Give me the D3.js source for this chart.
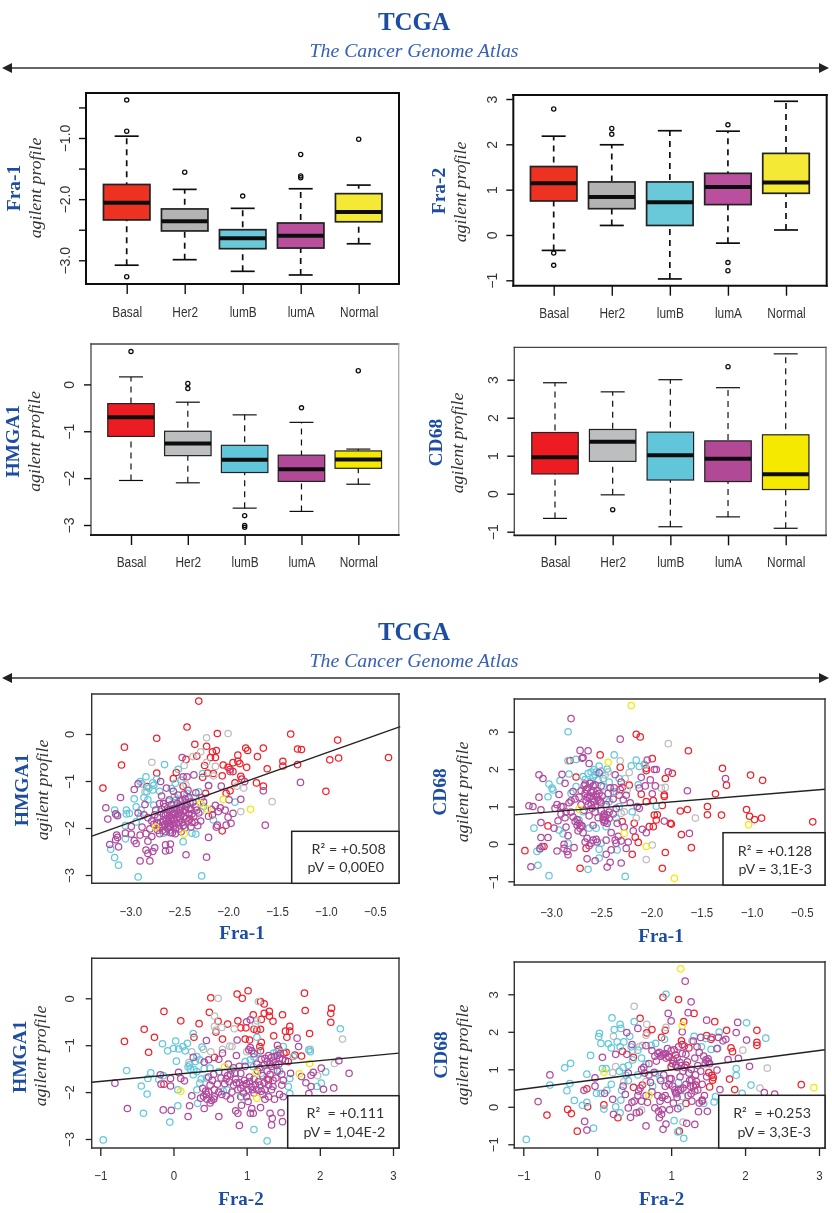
<!DOCTYPE html>
<html><head><meta charset="utf-8">
<script src="https://cdnjs.cloudflare.com/ajax/libs/d3/7.8.5/d3.min.js"></script>
<style>html,body{margin:0;padding:0;background:#fff}svg{display:block}text{white-space:pre}</style></head>
<body><svg id="c" width="832" height="1213"><defs><filter id="soft" x="0" y="0" width="100%" height="100%"><feGaussianBlur stdDeviation="0.3"/></filter></defs></svg>
<script>
const subtypes=["Basal","Her2","lumB","lumA","Normal"];
const axisCaption="agilent profile";
const headerTitle="TCGA", headerSub="The Cancer Genome Atlas";

// box stats per subtype: [lowWhisker,q1,median,q3,highWhisker]
const fra1Stats=[[-3.08,-2.34,-2.06,-1.76,-0.97],[-2.99,-2.52,-2.36,-2.16,-1.84],[-3.18,-2.81,-2.64,-2.50,-2.15],[-3.24,-2.80,-2.60,-2.39,-1.83],[-2.73,-2.37,-2.21,-1.91,-1.77]];
const fra1Out=[[-0.38,-0.89,-3.27],[-1.56],[-1.95],[-1.27,-1.62,-1.65],[-1.02]];
const fra2Stats=[[-0.34,0.75,1.14,1.51,2.18],[0.21,0.58,0.84,1.17,1.99],[-0.97,0.21,0.72,1.17,2.30],[-0.18,0.67,1.06,1.36,2.29],[0.11,0.92,1.16,1.80,2.95]];
const fra2Out=[[2.78,-0.40,-0.67],[2.35,2.22],[],[2.43,-0.61,-0.79],[]];
const hmgaStats=[[-2.05,-1.11,-0.70,-0.41,0.16],[-2.10,-1.52,-1.26,-1.00,-0.38],[-2.64,-1.88,-1.61,-1.30,-0.65],[-2.71,-2.07,-1.81,-1.51,-0.81],[-2.13,-1.79,-1.60,-1.42,-1.38]];
const hmgaOut=[[0.70],[0.02,-0.09],[-2.80,-3.01,-3.05],[-0.50],[0.29]];
const cd68Stats=[[-0.65,0.52,0.96,1.61,2.92],[-0.03,0.85,1.37,1.69,2.68],[-0.87,0.36,1.01,1.62,3.00],[-0.61,0.32,0.92,1.39,2.79],[-0.91,0.11,0.51,1.55,3.68]];
const cd68Out=[[],[-0.42],[],[3.34],[]];

// Fra-1 vs HMGA1
const aRed=[[-3.28,-1.15],[-3.09,-0.66],[-3.06,-0.28],[-2.73,-0.09],[-2.73,-0.83],[-2.30,0.70],[-2.42,0.15],[-2.11,0.01],[-2.34,-0.22],[-2.22,-0.26],[-2.12,-0.35],[-2.16,-0.38],[-2.13,-0.50],[-2.18,-0.50],[-2.32,-0.47],[-2.43,-0.54],[-2.24,-0.67],[-2.05,-0.66],[-1.95,-0.61],[-1.90,-0.45],[-1.90,-0.58],[-1.88,-0.63],[-1.82,-0.30],[-1.80,-0.35],[-1.81,-0.71],[-2.00,-0.71],[-1.98,-0.75],[-1.95,-0.80],[-2.21,-0.83],[-2.15,-0.84],[-2.26,-0.92],[-2.06,-0.89],[-1.87,-0.90],[-1.86,-0.96],[-1.93,-1.04],[-1.70,-0.48],[-1.64,-0.30],[-1.60,-0.74],[-1.71,-1.04],[-1.64,-1.11],[-1.44,-0.58],[-1.44,-0.68],[-1.36,0.00],[-1.29,-0.32],[-1.25,-0.33],[-1.29,-0.65],[-1.00,-1.22],[-0.96,-0.55],[-0.87,-0.51],[-0.88,-0.13],[-0.36,-0.50],[-2.53,-0.82],[-2.56,-0.95],[-2.23,-1.26],[-1.98,-1.21],[-2.02,-1.26],[-2.06,-2.06],[-2.16,-1.72],[-2.39,-1.81],[-2.83,-1.12],[-2.46,-1.11]];
const aGray=[[-2.78,-0.60],[-2.22,-0.08],[-2.00,0.01],[-2.28,-0.38],[-2.36,-0.48],[-2.45,-0.67],[-2.22,-0.60],[-2.13,-0.69],[-2.15,-0.89],[-1.91,-1.11],[-1.84,-1.15],[-1.87,-1.65],[-1.55,-1.44],[-2.85,-1.23],[-2.49,-1.38],[-2.43,-1.08],[-2.28,-1.65]];
const aCyan=[[-3.16,-2.63],[-3.12,-2.79],[-3.20,-2.45],[-2.92,-3.04],[-2.27,-3.02],[-3.16,-1.62],[-3.14,-1.72],[-3.04,-1.62],[-3.04,-1.70],[-3.01,-1.69],[-3.05,-1.95],[-3.05,-2.23],[-2.96,-1.38],[-2.94,-1.55],[-2.90,-1.01],[-2.84,-0.91],[-2.88,-1.06],[-2.77,-1.04],[-2.76,-1.09],[-2.73,-0.96],[-2.65,-0.65],[-2.51,-0.75],[-2.26,-0.84],[-2.20,-1.09],[-2.83,-1.23],[-2.77,-1.19],[-2.81,-1.15],[-2.90,-1.76],[-2.76,-1.51],[-2.94,-1.87],[-2.46,-2.29],[-2.33,-2.13],[-2.45,-1.94],[-1.93,-1.45],[-2.53,-1.40],[-2.56,-1.51],[-2.61,-1.44],[-2.42,-1.26],[-2.30,-1.23],[-2.15,-1.83],[-2.66,-2.11],[-2.37,-2.11],[-2.55,-1.33],[-2.50,-1.62],[-2.35,-1.35],[-2.60,-2.05],[-2.69,-1.65],[-2.44,-1.46],[-2.86,-1.35],[-2.25,-1.54],[-2.54,-1.05],[-2.48,-0.98],[-2.58,-1.16],[-2.70,-1.22],[-2.82,-1.40],[-2.89,-1.62]];
const aPurple=[[-3.25,-1.57],[-3.23,-1.81],[-3.21,-2.35],[-3.10,-1.35],[-3.15,-1.70],[-3.13,-1.74],[-3.14,-2.15],[-3.13,-2.20],[-3.15,-2.25],[-3.12,-2.40],[-3.05,-2.11],[-2.96,-1.18],[-2.92,-1.06],[-2.99,-1.97],[-2.99,-2.13],[-2.96,-2.27],[-2.94,-2.33],[-2.90,-2.15],[-2.90,-2.70],[-2.80,-2.70],[-2.84,-2.47],[-2.82,-2.54],[-2.77,-2.50],[-2.75,-2.42],[-2.64,-2.36],[-2.64,-2.49],[-2.59,-2.34],[-2.60,-2.47],[-2.43,-2.57],[-2.22,-2.62],[-2.20,-2.20],[-2.47,-0.50],[-2.35,-0.87],[-2.46,-0.91],[-2.42,-0.91],[-2.69,-1.01],[-2.07,-1.11],[-1.98,-0.80],[-1.83,-1.01],[-1.87,-1.39],[-1.95,-1.69],[-1.97,-1.90],[-2.02,-1.94],[-2.00,-1.77],[-2.11,-1.94],[-2.12,-1.98],[-1.62,-1.94],[-1.64,-1.21],[-1.26,-1.03],[-2.20,-1.75],[-2.13,-1.52],[-2.08,-1.57],[-2.17,-1.60],[-2.10,-1.65],[-2.03,-1.62],[-1.99,-1.40],[-2.25,-1.45],[-2.20,-1.10],[-2.92,-1.68],[-2.85,-1.50],[-2.82,-1.78],[-2.88,-1.98],[-2.84,-2.12],[-2.82,-2.28],[-2.78,-2.18],[-2.72,-2.05],[-2.76,-1.92],[-2.72,-1.78],[-2.74,-1.62],[-2.70,-1.48],[-2.68,-1.32],[-2.63,-1.15],[-2.66,-1.70],[-2.69,-1.88],[-2.67,-1.96],[-2.64,-2.08],[-2.62,-1.90],[-2.63,-1.80],[-2.61,-1.62],[-2.60,-1.75],[-2.58,-1.85],[-2.59,-1.98],[-2.57,-2.10],[-2.55,-1.95],[-2.56,-1.80],[-2.54,-1.70],[-2.55,-1.58],[-2.52,-1.48],[-2.52,-1.78],[-2.50,-1.88],[-2.50,-2.02],[-2.48,-1.72],[-2.47,-1.55],[-2.47,-1.40],[-2.45,-1.28],[-2.44,-1.62],[-2.43,-1.80],[-2.42,-1.50],[-2.40,-1.70],[-2.40,-1.35],[-2.38,-1.60],[-2.37,-1.88],[-2.36,-1.45],[-2.35,-1.75],[-2.33,-1.55],[-2.33,-1.25],[-2.31,-1.95],[-2.30,-1.68],[-2.28,-1.85],[-2.27,-1.35],[-2.65,-1.55],[-2.57,-1.65],[-2.49,-1.62],[-2.60,-1.40],[-2.66,-1.85],[-2.53,-1.90],[-2.46,-1.95],[-2.70,-1.98],[-2.58,-1.50],[-2.62,-2.00],[-2.75,-1.72],[-2.44,-2.00],[-2.38,-1.98],[-2.51,-1.30],[-2.56,-1.22],[-2.41,-1.20],[-2.68,-1.60],[-2.66,-1.48],[-2.64,-1.72],[-2.65,-1.92],[-2.62,-1.68],[-2.61,-1.84],[-2.60,-1.95],[-2.59,-1.60],[-2.58,-1.78],[-2.57,-1.92],[-2.56,-1.70],[-2.55,-1.85],[-2.54,-2.02],[-2.53,-1.62],[-2.51,-1.70],[-2.50,-1.55],[-2.49,-1.80],[-2.49,-1.42],[-2.47,-1.88],[-2.46,-1.65],[-2.45,-1.75],[-2.44,-1.38],[-2.43,-1.55],[-2.41,-1.85],[-2.40,-1.60],[-2.39,-1.45],[-2.37,-1.70],[-2.34,-1.88],[-2.32,-1.62],[-2.70,-2.12],[-2.67,-2.05],[-2.73,-1.88],[-2.78,-1.85],[-2.80,-2.02],[-2.86,-1.72],[-2.59,-2.10],[-2.54,-2.12],[-2.48,-2.08]];
const aYellow=[[-2.74,-1.98],[-2.45,-2.13],[-2.28,-1.48],[-2.21,-1.60],[-2.05,-1.39],[-1.77,-1.60]];

// Fra-1 vs CD68
const bRed=[[-3.26,-0.18],[-3.03,0.48],[-3.07,-0.07],[-2.81,2.23],[-2.75,1.79],[-2.51,2.38],[-2.71,-0.65],[-2.31,2.05],[-2.15,2.93],[-2.11,2.86],[-1.99,2.28],[-2.05,2.02],[-2.05,1.96],[-1.86,1.75],[-1.79,1.89],[-1.87,1.31],[-1.87,1.27],[-2.10,1.33],[-2.22,1.57],[-2.29,1.51],[-2.05,1.13],[-1.98,1.16],[-1.89,1.03],[-1.97,0.77],[-1.94,0.78],[-1.95,0.64],[-1.98,0.46],[-2.02,0.46],[-2.29,0.60],[-2.17,0.55],[-2.16,0.18],[-2.13,0.04],[-2.19,-0.28],[-2.65,-0.12],[-1.86,-0.23],[-1.89,-0.65],[-1.81,0.55],[-1.80,0.53],[-1.70,0.25],[-1.60,-0.10],[-1.71,0.88],[-1.64,0.92],[-1.63,2.49],[-1.36,1.34],[-1.44,1.00],[-1.44,0.78],[-1.30,0.77],[-1.29,2.02],[-1.25,1.57],[-1.05,0.92],[-1.02,0.74],[-0.97,0.65],[-0.90,0.69],[-1.01,1.84],[-0.89,1.70],[-0.39,0.59]];
const bGray=[[-1.83,2.68],[-1.56,0.69],[-2.31,2.22],[-2.22,1.91],[-2.26,1.75],[-2.06,2.11],[-2.43,1.93],[-2.46,1.84],[-1.90,1.49],[-1.86,1.51],[-1.99,-0.03],[-2.05,-0.42],[-2.15,0.69],[-2.27,0.86],[-2.30,0.82],[-2.35,1.40],[-2.24,1.44]];
const bCyan=[[-3.17,0.42],[-3.14,-0.20],[-3.13,-0.57],[-3.11,-0.14],[-3.02,-0.85],[-3.02,1.60],[-2.99,1.49],[-2.98,1.44],[-3.03,1.26],[-2.83,3.00],[-2.91,1.69],[-2.82,1.87],[-2.83,2.22],[-2.75,2.26],[-2.26,-0.87],[-2.63,-0.68],[-2.37,2.38],[-2.15,2.24],[-2.20,2.09],[-2.12,2.07],[-2.07,2.13],[-2.92,0.37],[-2.88,0.27],[-2.83,0.02],[-2.68,1.80],[-2.63,1.89],[-2.57,1.99],[-2.52,2.08],[-2.60,1.67],[-2.53,1.71],[-2.48,1.53],[-2.75,1.53],[-2.80,1.35],[-2.68,0.86],[-2.72,0.64],[-2.62,0.42],[-2.55,0.42],[-2.52,-0.38],[-2.52,-0.14],[-2.50,0.02],[-2.45,0.46],[-2.42,1.13],[-2.35,0.69],[-2.32,1.00],[-2.32,1.75],[-2.13,1.58],[-2.19,0.86],[-1.95,1.01],[-2.34,-0.16],[-2.56,1.85],[-2.45,1.17],[-2.60,1.92],[-2.50,1.95],[-2.44,2.00],[-2.66,1.72],[-2.58,1.78],[-2.55,1.92],[-2.48,1.75],[-2.42,1.65],[-2.38,1.40]];
const bPurple=[[-2.80,3.35],[-2.31,2.80],[-2.71,2.50],[-2.63,2.49],[-2.69,2.29],[-2.68,2.31],[-2.62,2.15],[-3.12,1.85],[-3.08,1.75],[-3.12,1.25],[-3.22,1.02],[-3.18,1.00],[-3.10,0.91],[-3.10,0.57],[-3.10,0.17],[-3.03,0.17],[-3.09,-0.07],[-3.11,-0.12],[-3.20,-0.61],[-2.94,-0.19],[-2.89,1.86],[-2.86,1.62],[-2.97,0.42],[-2.87,-0.01],[-2.87,-0.12],[-2.84,-0.20],[-2.83,-0.29],[-2.77,-0.10],[-2.64,-0.40],[-2.56,-0.45],[-2.41,-0.49],[-2.44,-0.62],[-2.30,-0.51],[-2.45,-0.28],[-2.40,-0.16],[-2.35,0.02],[-2.25,-0.12],[-2.04,2.24],[-1.97,1.99],[-1.95,1.99],[-1.83,1.93],[-2.10,1.78],[-2.01,1.71],[-1.96,1.55],[-2.12,1.49],[-2.06,1.55],[-1.99,1.34],[-1.64,1.42],[-1.26,1.75],[-1.87,0.61],[-2.05,0.30],[-2.09,0.39],[-1.62,0.28],[-2.96,0.95],[-2.94,1.05],[-2.90,0.80],[-2.93,0.62],[-2.92,1.32],[-2.88,1.00],[-2.86,0.70],[-2.85,0.45],[-2.82,1.10],[-2.83,0.22],[-2.80,0.85],[-2.78,1.40],[-2.76,1.20],[-2.76,0.60],[-2.74,0.50],[-2.73,0.35],[-2.72,1.25],[-2.70,1.42],[-2.70,1.05],[-2.69,0.48],[-2.67,0.90],[-2.66,1.60],[-2.66,1.35],[-2.65,1.15],[-2.64,0.15],[-2.63,1.50],[-2.62,1.25],[-2.62,0.75],[-2.60,1.38],[-2.60,1.05],[-2.60,0.02],[-2.58,1.55],[-2.58,1.20],[-2.58,0.50],[-2.56,1.00],[-2.56,0.85],[-2.55,1.32],[-2.55,0.12],[-2.53,1.18],[-2.53,0.70],[-2.52,1.90],[-2.50,1.10],[-2.50,0.90],[-2.50,1.55],[-2.48,0.65],[-2.47,0.80],[-2.46,0.72],[-2.45,1.05],[-2.45,0.10],[-2.44,0.55],[-2.43,1.35],[-2.42,0.85],[-2.41,1.50],[-2.40,0.30],[-2.38,1.20],[-2.37,1.50],[-2.36,1.85],[-2.35,0.95],[-2.34,0.55],[-2.33,0.20],[-2.31,1.45],[-2.30,1.65],[-2.28,1.18],[-2.27,0.45],[-2.25,1.30],[-2.23,0.05],[-2.21,1.10],[-2.18,0.35],[-2.14,1.00],[-2.12,0.95],[-2.67,1.55],[-2.65,1.45],[-2.64,1.25],[-2.63,1.05],[-2.61,1.62],[-2.60,1.28],[-2.59,0.95],[-2.58,1.42],[-2.57,1.12],[-2.56,1.58],[-2.54,1.25],[-2.54,1.42],[-2.52,1.35],[-2.51,1.15],[-2.49,1.28],[-2.74,0.65],[-2.72,0.55],[-2.71,0.42],[-2.70,0.48],[-2.68,0.30],[-2.48,0.72],[-2.46,0.62],[-2.44,0.78],[-2.47,0.58],[-2.42,0.68],[-2.90,1.00],[-2.85,0.85],[-2.80,1.15],[-2.78,0.72],[-2.66,0.05],[-2.62,-0.05],[-2.58,0.10],[-2.54,0.05],[-2.38,0.80],[-2.36,0.10],[-2.30,0.08],[-2.32,1.30]];
const bYellow=[[-2.20,3.70],[-2.43,2.18],[-2.72,0.93],[-2.27,0.28],[-2.05,-0.07],[-1.77,-0.92],[-1.03,0.51]];

// Fra-2 vs HMGA1
const cRed=[[-0.67,-0.92],[-0.34,-1.15],[-0.26,-0.83],[-0.40,-0.66],[-0.13,-0.28],[0.10,-0.48],[0.35,-0.54],[0.51,0.01],[0.49,-0.30],[0.61,-0.49],[0.74,-0.55],[0.58,-0.72],[0.67,-0.87],[0.56,-1.26],[0.28,-0.83],[-0.13,-1.83],[0.87,0.09],[0.94,0.00],[1.02,0.16],[0.88,-0.48],[0.92,-0.63],[0.99,-0.63],[1.09,-0.35],[0.98,-0.87],[1.04,-0.89],[1.19,-0.07],[1.24,-0.12],[1.24,-0.32],[1.31,-0.28],[1.31,-0.38],[1.20,-0.45],[1.36,-0.49],[1.49,-0.35],[1.10,-0.66],[1.14,-0.68],[1.19,-0.66],[1.37,-0.80],[1.20,-0.94],[1.18,-1.03],[1.19,-1.12],[1.53,-0.70],[1.59,-0.70],[1.59,-0.60],[1.55,-0.83],[1.79,0.11],[1.80,-0.26],[1.86,-0.75],[2.16,-0.21],[2.15,-0.32],[2.15,-0.51],[1.75,-1.23],[1.66,-1.21],[1.51,-1.17],[1.54,-1.15],[1.44,-1.09],[1.57,-1.35],[1.30,-1.74],[0.92,-2.10]];
const cGray=[[0.61,0.00],[1.16,-0.07],[0.56,-0.38],[0.56,-0.60],[0.66,-0.62],[0.58,-0.68],[0.83,-0.65],[1.14,-0.48],[1.12,-0.55],[0.25,-1.14],[0.41,-1.09],[0.51,-1.14],[0.67,-1.09],[0.77,-1.02],[0.80,-1.03],[1.00,-1.14],[0.21,-1.37],[2.31,-0.87],[1.97,-1.65],[2.20,-1.39],[1.87,-1.09],[1.37,-1.53]];
const cCyan=[[-0.96,-3.02],[-0.64,-1.54],[-0.44,-1.87],[-0.36,-2.04],[-0.41,-2.45],[-0.35,-1.71],[-0.31,-1.59],[-0.20,-1.73],[-0.14,-1.65],[-0.15,-0.97],[-0.08,-1.12],[0.00,-1.07],[0.03,-0.91],[0.07,-1.08],[0.13,-1.03],[0.16,-1.12],[0.19,-0.96],[0.04,-1.34],[0.27,-0.75],[-0.05,-2.64],[0.06,-2.29],[0.06,-1.95],[0.20,-1.46],[0.23,-1.51],[0.32,-1.24],[0.36,-1.31],[0.32,-1.56],[0.27,-1.63],[0.39,-1.04],[0.33,-2.24],[0.36,-1.81],[0.32,-1.95],[0.50,-1.49],[0.62,-1.56],[0.73,-1.95],[0.80,-1.53],[0.98,-1.35],[1.05,-1.31],[1.14,-0.83],[1.10,-2.80],[1.28,-3.04],[1.37,-1.17],[1.41,-1.14],[1.50,-1.03],[1.64,-1.24],[1.59,-1.71],[1.57,-1.88],[1.59,-2.03],[1.87,-1.14],[1.85,-1.10],[2.08,-1.57],[2.02,-1.81],[1.96,-1.88],[2.28,-0.65],[0.93,-2.10],[1.09,-1.46],[0.45,-1.70],[0.68,-1.98],[1.20,-1.60],[1.45,-1.55],[0.22,-1.42],[0.30,-1.35],[0.38,-1.72],[0.28,-1.52],[0.42,-1.50],[1.10,-1.25],[1.15,-1.16]];
const cPurple=[[-0.80,-1.81],[-0.63,-2.35],[-0.18,-1.63],[-0.17,-1.83],[-0.14,-2.38],[-0.03,-2.39],[-0.04,-1.71],[-0.04,-1.87],[0.07,-1.58],[0.10,-1.71],[0.15,-1.76],[0.20,-2.52],[0.22,-2.29],[0.25,-2.08],[0.27,-1.26],[0.42,-1.36],[0.48,-1.31],[0.45,-0.90],[0.67,-1.17],[0.42,-2.35],[0.62,-2.52],[0.37,-2.13],[0.41,-2.09],[0.45,-2.05],[0.48,-2.00],[0.52,-2.18],[0.50,-2.23],[0.55,-2.15],[0.56,-1.95],[0.90,-2.71],[0.88,-2.45],[0.87,-0.89],[1.00,-0.50],[1.05,-0.46],[2.40,-1.60],[2.26,-1.33],[2.19,-1.91],[2.05,-1.94],[2.02,-1.49],[1.91,-1.58],[1.88,-1.64],[1.75,-1.67],[1.81,-1.80],[1.88,-1.88],[1.85,-2.03],[1.69,-0.85],[1.71,-1.03],[1.49,-2.63],[1.47,-2.44],[1.32,-2.45],[1.35,-2.56],[1.34,-2.70],[1.19,-2.33],[1.05,-2.45],[1.09,-2.45],[1.07,-2.35],[1.25,-1.28],[1.30,-1.22],[1.34,-1.26],[1.38,-1.24],[1.42,-1.22],[1.45,-1.28],[1.49,-1.30],[1.53,-1.33],[1.28,-1.35],[1.20,-1.30],[1.14,-1.40],[1.40,-1.42],[1.48,-1.62],[1.50,-1.75],[1.48,-1.85],[1.45,-2.05],[1.50,-2.10],[1.38,-2.15],[1.34,-1.95],[1.36,-1.75],[1.30,-1.85],[1.25,-1.95],[1.22,-2.05],[1.25,-2.15],[1.18,-1.85],[1.14,-1.95],[1.10,-2.02],[1.06,-1.88],[1.02,-1.95],[1.00,-2.10],[0.97,-1.75],[0.95,-1.85],[0.90,-1.80],[0.88,-1.95],[0.85,-1.72],[0.82,-1.85],[0.80,-2.00],[0.76,-1.78],[0.74,-1.65],[0.70,-1.82],[0.66,-2.05],[0.65,-1.70],[0.60,-1.83],[0.55,-1.62],[0.53,-1.75],[0.40,-1.92],[0.92,-1.60],[0.98,-1.45],[1.04,-1.68],[1.10,-1.72],[1.15,-1.55],[1.22,-1.65],[1.28,-1.55],[1.34,-1.45],[0.90,-1.45],[0.82,-1.48],[0.75,-1.40],[0.86,-1.22],[1.05,-1.05],[1.07,-1.12],[1.03,-1.10],[1.10,-1.18],[1.42,-1.00],[1.60,-1.60],[0.93,-2.28],[0.85,-2.40],[1.02,-2.20],[0.62,-1.30],[0.72,-1.72],[0.78,-1.62],[0.70,-1.58],[0.84,-1.60],[0.86,-1.80],[0.92,-1.92],[0.96,-2.02],[1.00,-1.82],[1.04,-1.78],[1.08,-1.95],[1.12,-1.85],[1.16,-1.78],[1.20,-1.98],[1.24,-1.80],[1.28,-1.72],[1.32,-1.62],[1.36,-1.88],[1.40,-1.70],[1.42,-1.55],[1.44,-1.40],[1.46,-1.18],[1.36,-1.34],[1.32,-1.40],[1.24,-1.42],[1.18,-1.48],[0.48,-1.68],[0.50,-1.85],[0.44,-1.98],[0.46,-2.15],[0.56,-2.10],[0.62,-2.00],[0.72,-2.08],[0.78,-2.15],[1.30,-2.10]];
const cYellow=[[0.10,-1.98],[0.70,-1.46],[1.13,-1.60],[1.14,-2.13],[1.72,-1.61],[1.86,-1.39]];

// Fra-2 vs CD68
const dRed=[[-0.68,-0.22],[-0.40,-0.07],[-0.35,-0.18],[-0.27,-0.65],[-0.13,0.00],[-0.14,0.48],[0.09,0.05],[0.28,-0.29],[0.34,1.48],[0.58,2.36],[0.49,1.32],[0.49,0.52],[0.61,0.58],[0.74,2.06],[0.67,1.97],[0.89,2.92],[1.10,2.86],[1.31,2.49],[0.92,2.04],[0.87,1.85],[1.17,2.27],[1.14,1.76],[1.15,1.66],[1.24,1.57],[1.48,1.90],[1.54,1.80],[1.59,2.27],[1.75,2.04],[1.81,1.57],[1.83,1.47],[2.16,2.04],[2.16,1.72],[2.16,1.64],[1.79,0.74],[1.86,0.46],[1.51,0.91],[1.55,0.84],[1.57,0.78],[1.56,0.71],[1.52,0.53],[1.42,0.18],[1.20,0.09],[1.11,-0.65],[0.97,1.32],[1.00,1.07],[2.76,0.59],[1.33,0.58],[1.06,1.38],[1.20,1.11]];
const dGray=[[0.50,2.68],[0.67,2.20],[0.22,1.88],[0.25,1.07],[0.21,0.91],[0.93,2.12],[1.28,1.76],[1.16,-0.41],[2.30,1.03],[2.20,0.50],[1.97,1.51],[0.61,1.64],[0.66,1.91],[0.57,1.60],[0.60,-0.09],[0.48,1.51],[0.36,0.67],[0.66,0.67]];
const dCyan=[[-0.96,-0.87],[-0.64,0.58],[-0.44,1.04],[-0.36,1.16],[-0.41,0.43],[-0.37,0.62],[-0.31,0.17],[-0.20,0.04],[-0.14,0.12],[-0.14,0.87],[-0.09,1.37],[-0.05,-0.57],[-0.01,0.36],[0.05,0.36],[0.03,1.96],[0.02,1.87],[0.05,1.69],[0.07,1.02],[0.12,1.02],[0.13,0.44],[0.09,-0.06],[0.15,1.68],[0.19,1.57],[0.19,0.60],[0.20,2.37],[0.23,2.06],[0.31,2.20],[0.32,2.09],[0.27,1.73],[0.36,1.73],[0.31,1.60],[0.44,1.88],[0.46,1.60],[0.50,2.27],[0.25,0.00],[0.31,-0.16],[0.32,0.18],[0.33,0.44],[0.39,0.84],[0.55,1.51],[0.73,1.64],[0.79,0.89],[0.79,1.69],[0.91,1.80],[0.93,3.00],[0.66,1.14],[1.04,-0.37],[1.09,-0.67],[1.17,-0.84],[1.13,0.00],[1.15,0.27],[1.31,1.88],[1.41,1.60],[1.47,1.82],[1.54,1.53],[1.63,1.56],[1.65,1.99],[1.58,0.13],[1.60,0.27],[1.44,0.09],[2.02,2.24],[1.88,1.02],[1.88,0.84],[2.08,0.58],[1.96,0.36],[2.28,1.83],[0.42,1.10],[0.75,0.55],[1.10,0.65],[0.85,0.75],[0.35,1.05],[0.30,0.95],[0.42,0.70],[0.55,0.85],[0.60,1.30],[0.48,1.25]];
const dPurple=[[-0.80,0.14],[-0.64,0.85],[-0.18,0.44],[-0.17,-0.39],[-0.14,-0.62],[-0.03,0.77],[-0.03,0.55],[0.10,0.36],[0.07,1.32],[0.21,0.20],[0.22,-0.20],[0.25,1.40],[0.40,1.98],[0.55,2.09],[0.66,-0.51],[1.19,3.35],[1.27,2.80],[0.96,2.49],[1.23,2.51],[1.00,2.29],[1.48,2.31],[1.90,2.25],[1.88,1.98],[2.02,1.78],[1.64,1.85],[1.70,1.76],[2.06,1.08],[1.91,1.29],[1.77,1.26],[2.26,0.38],[2.40,0.34],[1.62,0.98],[1.66,0.46],[1.49,-0.12],[1.37,-0.13],[1.32,-0.47],[1.21,-0.44],[0.93,-0.46],[0.89,-0.60],[0.84,-0.29],[0.38,0.33],[0.42,0.90],[0.35,0.55],[0.42,-0.03],[0.45,-0.28],[0.50,0.15],[0.53,-0.16],[0.57,-0.14],[0.55,0.30],[0.56,0.42],[0.60,0.15],[0.63,1.05],[0.66,1.63],[0.68,0.12],[0.70,1.15],[0.72,0.65],[0.74,1.50],[0.77,0.92],[0.78,-0.03],[0.80,1.22],[0.82,0.30],[0.83,-0.12],[0.84,1.45],[0.86,0.70],[0.87,-0.20],[0.88,1.38],[0.88,0.25],[0.90,0.85],[0.90,1.40],[0.92,0.55],[0.93,1.30],[0.95,1.55],[0.97,0.60],[0.98,-0.08],[1.00,0.75],[1.02,1.15],[1.03,0.10],[1.04,1.52],[1.05,0.45],[1.07,0.35],[1.08,1.05],[1.09,-0.05],[1.10,1.60],[1.12,0.80],[1.13,0.45],[1.14,1.10],[1.15,2.00],[1.16,0.95],[1.18,1.62],[1.20,0.60],[1.22,1.20],[1.23,0.30],[1.25,0.70],[1.27,1.00],[1.28,0.15],[1.30,0.55],[1.32,1.30],[1.33,0.85],[1.35,1.60],[1.36,0.45],[1.38,1.45],[1.38,0.10],[1.40,1.85],[1.42,0.60],[1.44,1.35],[1.45,0.30],[1.47,1.25],[1.48,0.80],[1.50,1.20],[1.50,1.28],[1.52,1.15],[1.55,1.85],[1.30,1.75],[1.27,0.35],[1.10,0.45],[0.78,1.35],[0.60,1.00],[0.64,0.90],[0.40,1.40],[0.47,1.66],[1.74,1.80],[1.62,1.55],[0.82,1.42],[0.86,1.35],[0.92,1.42],[0.96,1.35],[1.00,1.50],[1.03,1.25],[1.06,1.12],[1.08,1.30],[1.12,1.18],[1.15,1.42],[1.18,1.05],[1.20,1.40],[1.24,0.90],[1.26,0.55],[1.28,0.72],[1.32,0.42],[1.34,0.68],[1.36,1.10],[1.40,0.95],[1.42,0.15],[1.46,1.15],[0.85,0.15],[0.88,-0.08],[0.92,0.30],[0.95,0.20],[0.98,0.75],[1.02,0.55],[1.06,0.38],[1.08,0.25],[1.16,0.50],[0.70,0.85],[0.74,0.40],[0.66,0.30],[0.58,0.50],[0.47,0.12]];
const dYellow=[[1.13,3.68],[1.15,2.17],[0.09,0.93],[0.70,0.31],[2.93,0.51]];

// trend line ends and statistics captions
const aLine=[[-3.40,-2.18],[-0.24,0.156]], bLine=[[-3.366,0.775],[-0.267,1.46]];
const cLine=[[-1.118,-1.79],[3.08,-1.17]], dLine=[[-1.12,0.44],[3.08,1.52]];
const aNote=["R² = +0.508","pV = 0,00E0"], bNote=["R² = +0.128","pV = 3,1E-3"];
const cNote=["R²  = +0.111","pV = 1,04E-2"], dNote=["R²  = +0.253","pV = 3,3E-3"];

const blue="#1f4ea1";
const svg=d3.select("#c");
const grp=svg.append("g").attr("filter","url(#soft)");

function header(yT,yS,yA){
  grp.append("text").attr("x",414).attr("y",yT).attr("text-anchor","middle").attr("font-family","Liberation Serif").attr("font-weight","bold").attr("font-size",25).attr("fill",blue).text(headerTitle);
  grp.append("text").attr("x",414).attr("y",yS).attr("text-anchor","middle").attr("font-family","Liberation Serif").attr("font-style","italic").attr("font-size",19.8).attr("fill","#3560b5").text(headerSub);
  grp.append("line").attr("x1",6).attr("x2",824).attr("y1",yA).attr("y2",yA).attr("stroke","#333").attr("stroke-width",1.5);
  grp.append("path").attr("d",`M2,${yA}L12,${yA-5}V${yA+5}Z`).attr("fill","#222");
  grp.append("path").attr("d",`M829,${yA}L819,${yA-5}V${yA+5}Z`).attr("fill","#222");
}
header(30,57,68);
header(640,667,678);

function rotText(x,y,txt,o){
  return grp.append("text").attr("transform",`translate(${x},${y}) rotate(-90) scale(${o.sx||1},1)`).attr("text-anchor","middle")
    .attr("font-family","Liberation Serif").attr("font-weight",o.w||"normal").attr("font-style",o.s||"normal").attr("font-size",o.f).attr("fill",o.c).text(txt);
}
function labels(p){
  rotText(p.nameX,p.nameY,p.name,{w:"bold",f:19.5,c:blue});
  rotText(p.capX,p.capY,axisCaption,{s:"italic",f:16.5,c:"#333",sx:1.08});
}
function styleAxis(g,stroke,sw){
  g.select(".domain").remove();
  g.selectAll(".tick line").attr("stroke",stroke).attr("stroke-width",sw);
}
function yAxis(p,y){
  const g=grp.append("g").attr("transform",`translate(${p.l},0)`)
    .call(d3.axisLeft(y).tickValues(p.yTicks).tickSize(p.yTick||7).tickFormat(v=>p.yLabel(v)));
  styleAxis(g,p.tc||"#111",p.tsw||1.4);
  g.selectAll(".tick text").attr("x",0).attr("y",0).attr("dy",0).attr("text-anchor","middle")
    .attr("transform",`translate(${p.yLabX-p.l},0) rotate(-90)`)
    .attr("font-family","Liberation Sans").attr("font-size",p.yFont||14).attr("fill","#333");
}
function frame(p,sw,c,rc,bw){
  const side=(x1,y1,x2,y2,col,w)=>grp.append("line").attr("x1",x1).attr("y1",y1).attr("x2",x2).attr("y2",y2).attr("stroke",col).attr("stroke-width",w).attr("stroke-linecap","square");
  side(p.l,p.t,p.r,p.t,c,sw);
  side(p.l,p.t,p.l,p.b,c,sw);
  side(p.r,p.t,p.r,p.b,rc||c,sw);
  side(p.l,p.b,p.r,p.b,bw?"#1a1a1a":c,bw||sw);
}
const boxColorsA=["#ee3124","#b3b3b3","#6bc9d8","#b94f9d","#f4ea36"];
const boxColorsB=["#ed1c24","#bcbec0","#62c6da","#b14a96","#f5e900"];

function boxPanel(p,stats,outs,colors){
  const x=d3.scalePoint().domain(subtypes).range([p.x0,p.x1]);
  const y=d3.scaleLinear().domain(p.yDom).range(p.yRange);
  labels(p);
  const bw=46.5, cw=24;
  const lw=p.lw||1.5;
  subtypes.forEach((s,i)=>{
    const [lo,q1,m,q3,hi]=stats[i], cx=x(s);
    const g=grp.append("g");
    g.append("line").attr("x1",cx).attr("x2",cx).attr("y1",y(lo)).attr("y2",y(hi)).attr("stroke","#111").attr("stroke-width",lw).attr("stroke-dasharray","6,5");
    [lo,hi].forEach(v=>g.append("line").attr("x1",cx-cw/2).attr("x2",cx+cw/2).attr("y1",y(v)).attr("y2",y(v)).attr("stroke","#111").attr("stroke-width",lw));
    g.append("rect").attr("x",cx-bw/2).attr("width",bw).attr("y",y(q3)).attr("height",y(q1)-y(q3)).attr("fill",colors[i]).attr("stroke","#222").attr("stroke-width",lw);
    g.append("line").attr("x1",cx-bw/2).attr("x2",cx+bw/2).attr("y1",y(m)).attr("y2",y(m)).attr("stroke","#111").attr("stroke-width",4);
    outs[i].forEach(v=>g.append("circle").attr("cx",cx).attr("cy",y(v)).attr("r",2.1).attr("fill","none").attr("stroke","#111").attr("stroke-width",1.3));
  });
  frame(p,p.fw,p.fc,p.rc,p.bw);
  const gx=grp.append("g").attr("transform",`translate(0,${p.b})`).call(d3.axisBottom(x).tickSize(p.xTick||10));
  styleAxis(gx,"#111",1.4);
  gx.selectAll(".tick text").attr("y",0).attr("dy",0).attr("text-anchor","middle")
    .attr("transform",`translate(0,${p.xLabY-p.b}) scale(0.82,1)`)
    .attr("font-family","Liberation Sans").attr("font-size",14.5).attr("fill","#333");
  yAxis(p,y);
}
const f1=d3.format(".1f"), f0=d3.format("d");
const intLabel=v=>f0(v);

boxPanel({l:86,r:399,t:93,b:284,x0:126.7,x1:358.7,yDom:[-3,-1],yRange:[260.3,138],yTicks:[-3,-2.5,-2,-1.5,-1,-0.5],
  yLabel:v=>Number.isInteger(v)?f1(v):"",yLabX:70,xLabY:316.5,name:"Fra-1",nameX:20,nameY:188,capX:41,capY:188,fw:2,fc:"#111",lw:1.7},
  fra1Stats,fra1Out,boxColorsA);
boxPanel({l:513.3,r:826.7,t:95,b:285.7,x0:553.7,x1:786,yDom:[-1,3],yRange:[280.3,99],yTicks:[-1,0,1,2,3],
  yLabel:intLabel,yLabX:496.7,xLabY:318,name:"Fra-2",nameX:444.7,nameY:191,capX:465.5,capY:192,fw:2,fc:"#111",lw:1.7},
  fra2Stats,fra2Out,boxColorsA);
boxPanel({l:91,r:398.7,t:344,b:535,x0:131,x1:358.3,yDom:[-3,0],yRange:[525,384.4],yTicks:[-3,-2,-1,0],
  yLabel:intLabel,yLabX:74,xLabY:567.3,name:"HMGA1",nameX:19.3,nameY:441.3,capX:40,capY:441.5,fw:1.3,fc:"#444",rc:"#aaa",bw:2,lw:1.2},
  hmgaStats,hmgaOut,boxColorsB);
boxPanel({l:514.3,r:826,t:347.3,b:535.3,x0:555,x1:785.7,yDom:[-1,3],yRange:[531.7,379.7],yTicks:[-1,0,1,2,3],
  yLabel:intLabel,yLabX:497.7,xLabY:567.3,name:"CD68",nameX:442,nameY:442.7,capX:463,capY:443,fw:1.3,fc:"#444",rc:"#666",bw:1.7,lw:1.2},
  cd68Stats,cd68Out,boxColorsB);

const dotColors={red:"#f0202a",gray:"#bdbdbd",cyan:"#62c8da",purple:"#b04a9e",yellow:"#f5e900"};
function scatterPanel(p,sets,line,note){
  const x=d3.scaleLinear().domain(p.xDom).range(p.xRange);
  const y=d3.scaleLinear().domain(p.yDom).range(p.yRange);
  labels(p);
  [["red",sets[0]],["gray",sets[1]],["cyan",sets[2]],["purple",sets[3]],["yellow",sets[4]]].forEach(([k,pts])=>{
    grp.append("g").selectAll("circle").data(pts).join("circle")
      .attr("cx",d=>x(d[0])).attr("cy",d=>y(d[1])).attr("r",3.2).attr("fill","none").attr("stroke",dotColors[k]).attr("stroke-width",1.25);
  });
  grp.append("path").attr("d",d3.line().x(d=>x(d[0])).y(d=>y(d[1]))(line)).attr("fill","none").attr("stroke","#222").attr("stroke-width",1.4);
  frame(p,1.4,"#333");
  grp.append("rect").attr("x",p.box[0]).attr("y",p.box[1]).attr("width",p.r-p.box[0]).attr("height",p.b-p.box[1]).attr("fill","#fff").attr("stroke","#222").attr("stroke-width",1.5);
  note.forEach((t,i)=>grp.append("text").attr("x",p.noteX[i]).attr("y",p.noteY[i]).attr("text-anchor","end").attr("font-family","Lato").attr("font-size",14.3).attr("fill","#333").text(t));
  const gx=grp.append("g").attr("transform",`translate(0,${p.b})`)
    .call(d3.axisBottom(x).tickValues(p.xTicks).tickSize(p.xTick).tickFormat(p.xLabel));
  styleAxis(gx,"#222",1.3);
  gx.selectAll(".tick text").attr("y",0).attr("dy",0).attr("transform",`translate(0,${p.xLabY-p.b}) scale(0.92,1)`).attr("font-family","Liberation Sans").attr("font-size",12.5).attr("fill","#333");
  yAxis(Object.assign({},p,{yTick:6,tc:"#222",tsw:1.3,yFont:13}),y);
  grp.append("text").attr("x",p.titleX).attr("y",p.titleY).attr("text-anchor","middle").attr("font-family","Liberation Serif").attr("font-weight","bold").attr("font-size",19).attr("fill",blue).text(p.xName);
}
const fra1Ticks=[-3,-2.5,-2,-1.5,-1,-0.5], fra2Ticks=[-1,0,1,2,3];
scatterPanel({l:91.7,r:399,t:694,b:883.3,xDom:[-3,-0.5],xRange:[130.3,374.8],yDom:[-3,0],yRange:[875,734],yTicks:[-3,-2,-1,0],yLabel:intLabel,yLabX:74,
  xTicks:fra1Ticks,xLabel:f1,xTick:0,xLabY:916,name:"HMGA1",nameX:28.3,nameY:790,capX:48,capY:790,xName:"Fra-1",titleX:242,titleY:939,
  box:[291.7,831.3],noteX:[385.7,384],noteY:[854.3,871.7]},[aRed,aGray,aCyan,aPurple,aYellow],aLine,aNote);
scatterPanel({l:514.3,r:825,t:699,b:885,xDom:[-3,-0.5],xRange:[551,801.7],yDom:[-1,3],yRange:[881.3,731.7],yTicks:[-1,0,1,2,3],yLabel:intLabel,yLabX:497.7,
  xTicks:fra1Ticks,xLabel:f1,xTick:0,xLabY:917.3,name:"CD68",nameX:446,nameY:792,capX:467.5,capY:792,xName:"Fra-1",titleX:661,titleY:941.7,
  box:[723,832.7],noteX:[812,812],noteY:[856,874]},[bRed,bGray,bCyan,bPurple,bYellow],bLine,bNote);
scatterPanel({l:91.7,r:399,t:958.3,b:1148,xDom:[-1,3],xRange:[100.3,393],yDom:[-3,0],yRange:[1139,998.3],yTicks:[-3,-2,-1,0],yLabel:intLabel,yLabX:74,
  xTicks:fra2Ticks,xLabel:f0,xTick:8,xLabY:1180,name:"HMGA1",nameX:26,nameY:1056.7,capX:46,capY:1056,xName:"Fra-2",titleX:241,titleY:1205,
  box:[287.7,1095.7],noteX:[384.3,385.3],noteY:[1117.7,1136.7]},[cRed,cGray,cCyan,cPurple,cYellow],cLine,cNote);
scatterPanel({l:514.3,r:825,t:962,b:1148,xDom:[-1,3],xRange:[523.3,819],yDom:[-1,3],yRange:[1144.3,994.3],yTicks:[-1,0,1,2,3],yLabel:intLabel,yLabX:497.7,
  xTicks:fra2Ticks,xLabel:f0,xTick:8,xLabY:1180,name:"CD68",nameX:447,nameY:1055,capX:468,capY:1055,xName:"Fra-2",titleX:661.7,titleY:1205,
  box:[718.7,1095.3],noteX:[811,811],noteY:[1117.7,1136.7]},[dRed,dGray,dCyan,dPurple,dYellow],dLine,dNote);
</script></body></html>
